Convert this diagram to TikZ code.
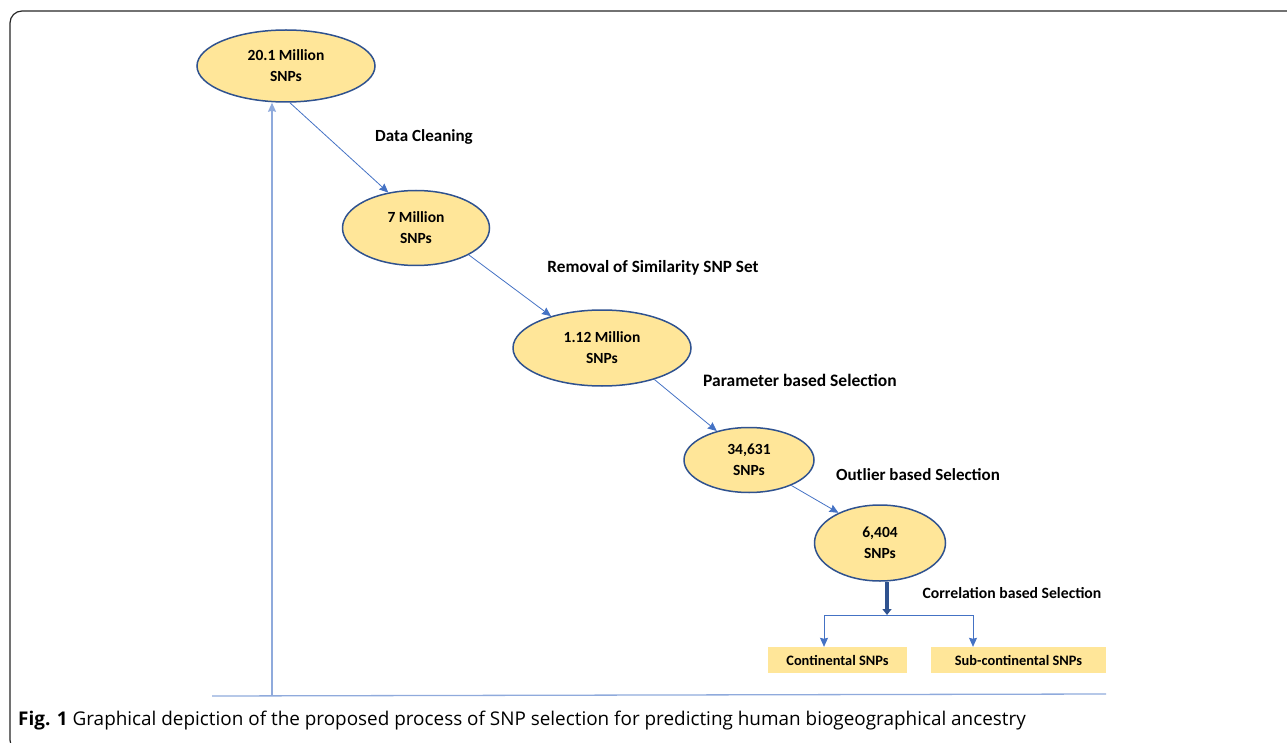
\documentclass[tikz,border=0pt]{standalone}
\usepackage{fontspec}
\setmainfont{Carlito}
\newfontfamily\capfont{Open Sans}
\usetikzlibrary{shapes.geometric,arrows.meta}
\definecolor{snpfill}{RGB}{255,230,153}
\definecolor{snpedge}{RGB}{47,82,143}
\definecolor{snpline}{RGB}{68,114,196}
\definecolor{axisline}{RGB}{143,170,220}
\begin{document}
\begin{tikzpicture}[x=1pt,y=-1pt,
  snp/.style={ellipse,draw=snpedge,line width=1.5pt,fill=snpfill,align=center,inner sep=0pt,font=\bfseries\fontsize{15.5}{21}\selectfont},
  stagelabel/.style={font=\bfseries\fontsize{17}{19}\selectfont},
  setbox/.style={rectangle,fill=snpfill,minimum height=26pt,inner sep=0pt,font=\bfseries\fontsize{14.4}{16}\selectfont},
  flow/.style={snpline,line width=0.8pt,-{Stealth[length=9pt,width=8pt,inset=1pt]}},
  axis/.style={axisline,line width=1.3pt}]
\useasboundingbox (0,0) rectangle (1287,743);
% frame
\draw[black!85,line width=1.2pt,rounded corners=12pt] (1300,11) -- (10,11) -- (10,752) -- (1300,752);
%
\node at (286,66) [snp,minimum width=178pt,minimum height=72pt] (e1) {20.1 Million\\SNPs};
\node at (416,228) [snp,minimum width=147pt,minimum height=75pt] (e2) {7 Million\\SNPs};
\node at (602,348) [snp,minimum width=178pt,minimum height=76pt] (e3) {1.12 Million\\SNPs};
\node at (749,460) [snp,minimum width=130pt,minimum height=65pt] (e4) {34,631\\SNPs};
\node at (880,543) [snp,minimum width=131pt,minimum height=76pt] (e5) {6,404\\SNPs};
%
\node at (424,137) [stagelabel] (l1) {Data Cleaning};
\node at (653,268) [stagelabel,font=\bfseries\fontsize{17.2}{19}\selectfont] (l2) {Removal of Similarity SNP Set};
\node at (800,380) [stagelabel,font=\bfseries\fontsize{17.5}{19}\selectfont] (l3) {Parameter based Selection};
\node at (918,475) [stagelabel] (l4) {Outlier based Selection};
\node at (1012,593) [stagelabel,font=\bfseries\fontsize{15.7}{19}\selectfont] (l5) {Correlation based Selection};
%
\node at (837.5,660) [setbox,minimum width=139pt] (cont) {Continental SNPs};
\node at (1018.5,660) [setbox,minimum width=175pt] (sub) {Sub-continental SNPs};
%
\draw[flow] (e1.-84) -- (e2.128);
\draw[flow] (e2.-27) -- (e3.148);
\draw[flow] (e3.-31) -- (e4.138);
\draw[flow] (e4.-31) -- (e5.144);
%
\coordinate (split) at (887,615);
\coordinate (lj) at (824,615);
\coordinate (rj) at (973,615);
\draw[snpedge,line width=3.5pt,-{Triangle[length=6pt,width=9pt]}] (split |- e5.south) -- (split);
\draw[snpline,line width=0.8pt] (lj) -- (rj);
\draw[flow] (lj) -- (lj |- cont.north);
\draw[flow] (rj) -- (rj |- sub.north);
%
\coordinate (axo) at (272,696);
\coordinate (axl) at (212,696);
\coordinate (axr) at (1106,694);
\draw[axis] (axl) -- (axr);
\draw[axis,-{Stealth[length=9pt,width=8pt,inset=1pt]}] (axo) -- (axo |- e1.south);
%
\node at (18,721) [anchor=west,inner sep=0pt,font=\capfont\fontsize{18.9}{22}\selectfont] (cap) {\textbf{Fig. 1} Graphical depiction of the proposed process of SNP selection for predicting human biogeographical ancestry};
\end{tikzpicture}
\end{document}
